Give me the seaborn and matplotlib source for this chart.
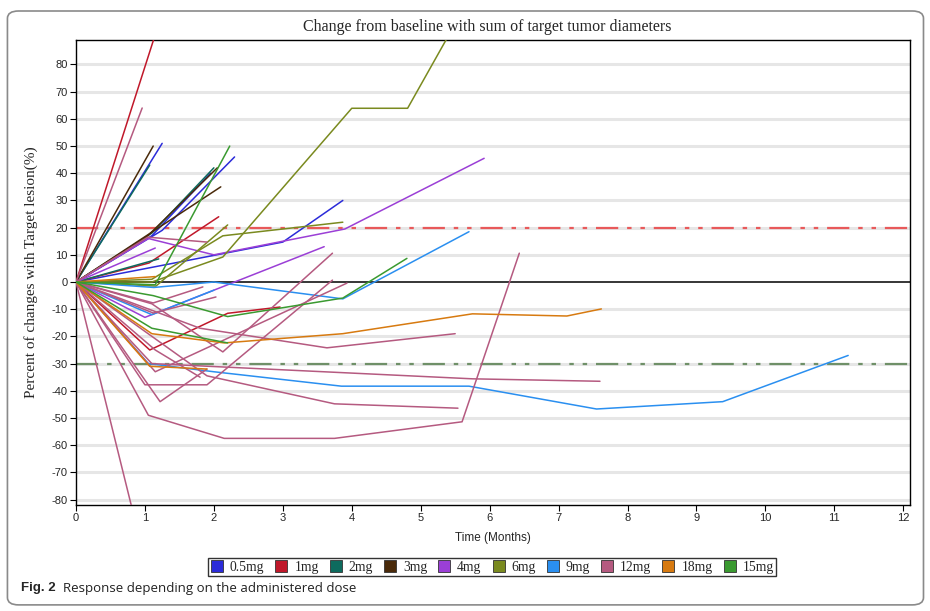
import numpy as np
import pandas as pd
import matplotlib
matplotlib.use('Agg')
import matplotlib.pyplot as plt
from matplotlib.patches import FancyBboxPatch
from matplotlib.lines import Line2D
import seaborn as sns

# Дозы и цвета
doses = ['0.5mg', '1mg', '2mg', '3mg', '4mg', '6mg', '9mg', '12mg', '18mg', '15mg']
dose_colors = ['#2b2bd9', '#c0182a', '#0e6b5e', '#4a2a0a', '#9b3fd6',
               '#7a8a1f', '#2a8ff0', '#b55a80', '#d77a10', '#3a9a30']

# Пациенты по дозам: (месяцы, % изменения)
d_0_5mg = [([0, 1.25], [0, 51]),
           ([0, 1.25, 2.3], [0, 19, 46]),
           ([0, 2.0, 3.0, 3.87], [0, 9.8, 14.7, 30]),
           ([0, 1.1, 1.95], [0, 17, 40])]
d_1mg = [([0, 1.2], [0, 95]),
         ([0, 1.06, 2.07], [0, 7, 24]),
         ([0, 1.07, 2.2, 2.96], [0, -25, -11.5, -9.2])]
d_2mg = [([0, 1.07], [0, 43]),
         ([0, 1.2], [0, 8.5]),
         ([0, 1.1, 2.0], [0, 18, 42])]
d_3mg = [([0, 1.12], [0, 50]),
         ([0, 1.2, 2.1], [0, 20, 35]),
         ([0, 1.0, 2.05], [0, 16, 42])]
d_4mg = [([0, 1.05, 2.0, 3.9, 5.92], [0, 16, 10, 19.5, 45.5]),
         ([0, 1.15], [0, 12.5]),
         ([0, 1.0, 3.6], [0, -13, 13])]
d_6mg = [([0, 1.1, 2.13, 3.87], [0, 1, 17, 22]),
         ([0, 1.1, 2.13, 4.0, 4.81, 5.5], [0, 0, 9.2, 63.9, 63.9, 95]),
         ([0, 1.16, 2.2], [0, -1.5, 21])]
d_9mg = [([0, 1.13, 2.0, 3.87, 5.7], [0, -2, 0, -6.2, 18.5]),
         ([0, 1.05, 2.0, 3.85, 5.7, 7.55, 9.38, 11.2], [0, -30, -33, -38.3, -38.3, -46.7, -44, -27]),
         ([0, 1.1, 2.0], [0, -12, -3])]
d_12mg = [([0, 0.96], [0, 64]),
          ([0, 0.83], [0, -85]),
          ([0, 1.05, 2.15, 3.75, 5.6, 6.43], [0, -49, -57.5, -57.5, -51.4, 10.6]),
          ([0, 1.22, 1.9], [0, -44, -32]),
          ([0, 1.0, 1.9, 3.72], [0, -37.8, -37.8, 0.7]),
          ([0, 1.1, 2.13, 3.72], [0, -8, -25.7, 10.6]),
          ([0, 1.15, 3.93], [0, -33, -0.4]),
          ([0, 1.8, 3.64, 5.5], [0, -17, -24.2, -19]),
          ([0, 1.1, 5.75, 7.6], [0, -30, -35.6, -36.5]),
          ([0, 1.9, 3.75, 5.54], [0, -34.5, -44.8, -46.4]),
          ([0, 1.12, 2.03], [0, -11.4, -5.5]),
          ([0, 1.12, 1.84], [0, -7.7, -1.8]),
          ([0, 1.04, 1.9], [0, 16.5, 14.7]),
          ([0, 1.15, 1.8], [0, -25, -35])]
d_18mg = [([0, 1.15], [0, 2]),
          ([0, 1.1, 2.15, 3.87, 5.75, 7.12, 7.62], [0, -19, -22.4, -19, -11.7, -12.5, -9.9]),
          ([0, 1.07, 1.9], [0, -31, -32])]
d_15mg = [([0, 1.15, 2.23], [0, -1, 50]),
          ([0, 1.12, 2.2, 3.87, 4.8], [0, -5, -12.7, -5.9, 8.7]),
          ([0, 1.1, 2.2], [0, -17, -22.4])]

all_patients = [d_0_5mg, d_1mg, d_2mg, d_3mg, d_4mg, d_6mg, d_9mg, d_12mg, d_18mg, d_15mg]

rows = []
pid = 0
for dose, pats in zip(doses, all_patients):
    for t, v in pats:
        for ti, vi in zip(t, v):
            rows.append({'dose': dose, 'patient': pid, 'month': ti, 'change': vi})
        pid += 1
df = pd.DataFrame(rows)

sns.set_style('white')
serif = ['Liberation Serif', 'DejaVu Serif']
sans = ['Liberation Sans', 'DejaVu Sans']
plt.rcParams['font.family'] = sans
plt.rcParams['axes.unicode_minus'] = False

fig = plt.figure(figsize=(9.3, 6.11), dpi=100)
ax = fig.add_axes([0.0817, 0.1735, 0.8963, 0.761])

# сетка
for yv in range(-80, 90, 10):
    if yv != 0:
        ax.axhline(yv, color='#e6e6e6', lw=2.2, zorder=0)
ax.axhline(0, color='black', lw=1.1, zorder=1)
ax.axhline(20, color='#e8595a', lw=1.6, dashes=[10, 4, 2, 4, 2, 4], zorder=1)
ax.axhline(-30, color='#6f9068', lw=1.6, dashes=[10, 4, 2, 4, 2, 4], zorder=1)

sns.lineplot(data=df, x='month', y='change', hue='dose', hue_order=doses,
             palette=dict(zip(doses, dose_colors)), units='patient', estimator=None,
             sort=False, lw=1.1, legend=False, ax=ax, zorder=3)

ax.set_xlim(0, 12.09)
ax.set_ylim(-82, 89)
ax.set_xticks(range(0, 13))
ax.set_yticks(range(-80, 90, 10))
ax.tick_params(axis='both', direction='out', length=4, width=0.8, labelsize=8, color='black',
               left=True, bottom=True, pad=2)
for s in ax.spines.values():
    s.set_color('black')
    s.set_linewidth(1.0)
ax.set_xlabel('Time (Months)', fontsize=8.5, labelpad=6)
ax.set_ylabel('Percent of changes with Target lesion(%)', fontsize=11, family=serif, labelpad=10)
fig.text(0.524, 0.955, 'Change from baseline with sum of target tumor diameters',
         ha='center', va='center', fontsize=11.5, family=serif)

handles = [Line2D([], [], marker='s', ls='none', markersize=8, markerfacecolor=c,
                  markeredgecolor='#333333', markeredgewidth=0.6) for c in dose_colors]
leg = fig.legend(handles, doses, loc='center', bbox_to_anchor=(0.529, 0.072), ncol=10,
                 frameon=True, fancybox=False, handlelength=1.0, handletextpad=0.45,
                 columnspacing=0.75, borderpad=0.15, prop={'family': serif, 'size': 9.8})
leg.get_frame().set_edgecolor('black')
leg.get_frame().set_linewidth(1.0)

fig.text(0.023, 0.037, 'Fig. 2', fontsize=9.5, fontweight='bold', family=sans, va='center')
fig.text(0.068, 0.037, 'Response depending on the administered dose', fontsize=9.5,
         family=['Open Sans', 'DejaVu Sans'], va='center', color='#222222')

border = FancyBboxPatch((0.008, 0.01), 0.985, 0.972, boxstyle='round,pad=0,rounding_size=0.012',
                        transform=fig.transFigure, fill=False, edgecolor='#8a8a8a', lw=1.2)
fig.patches.append(border)

fig.savefig('out.png', dpi=100)
